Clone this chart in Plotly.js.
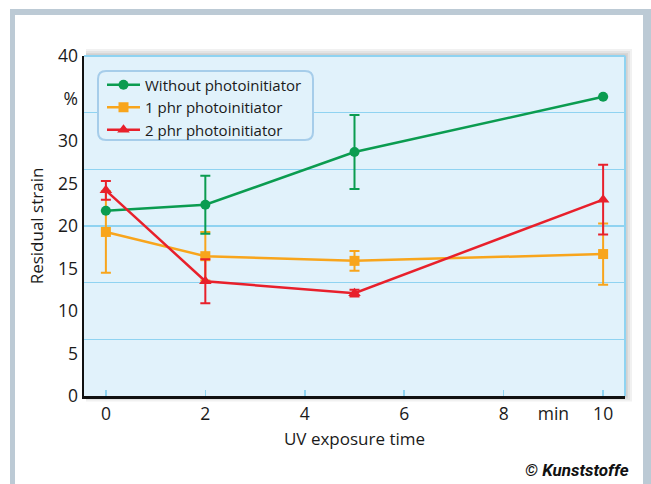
<!DOCTYPE html>
<html>
<head>
<meta charset="utf-8">
<script src="https://cdn.plot.ly/plotly-3.0.1.min.js"></script>
<style>html,body{margin:0;padding:0;background:#fff;}#chart{width:651px;height:484px;}</style>
</head>
<body>
<div id="chart"></div>
<script>
// ---- data ----
const times = [0, 2, 5, 10];
const seriesNames = ["Without photoinitiator", "1 phr photoinitiator", "2 phr photoinitiator"];
const withoutPI = [21.8, 22.5, 28.7, 35.2];
const withoutPIErr = [null, 3.4, 4.35, null];
const phr1 = [19.3, 16.45, 15.9, 16.7];
const phr1Err = [4.8, 2.85, 1.15, 3.6];
const phr2 = [24.2, 13.5, 12.1, 23.1];
const phr2Err = [1.1, 2.6, 0.4, 4.1];
const xTickVals = [0, 2, 4, 6, 8, 9, 10];
const xTickText = ["0", "2", "4", "6", "8", "min", "10"];
const yTickVals = [0, 5, 10, 15, 20, 25, 30, 35, 40];
const yTickText = ["0", "5", "10", "15", "20", "25", "30", "%", "40"];
const xMarkVals = [0, 2, 4, 6, 8, 10];

// ---- layout geometry ----
const W = 651, H = 484;
const M = {l: 84, r: 26, t: 56, b: 88};
const PW = W - M.l - M.r, PH = H - M.t - M.b;
const px = v => (v - M.l) / PW;
const py = v => (H - M.b - v) / PH;

const GREEN = "#0b9c50", ORANGE = "#f8a51c", RED = "#e8202b";
const BG = "#e1f2fb", GRID = "#8fd3f1", FRAME = "#bccad5";
const FONT = "Open Sans";

function mk(name, y, err, color, symbol, size, rank) {
  return {
    x: times, y: y, name: name, type: "scatter", mode: "lines+markers",
    legendrank: rank,
    line: {color: color, width: 2.5},
    marker: {color: color, symbol: symbol, size: size},
    error_y: {type: "data", array: err, visible: true, color: color, thickness: 2, width: 5}
  };
}
const traces = [
  mk(seriesNames[1], phr1, phr1Err, ORANGE, "square", 10, 2),
  mk(seriesNames[0], withoutPI, withoutPIErr, GREEN, "circle", 10, 1),
  mk(seriesNames[2], phr2, phr2Err, RED, "triangle-up", 11, 3),
  {x: [], y: [], xaxis: "x2", yaxis: "y2", showlegend: false, type: "scatter", hoverinfo: "skip"}
];

function roundRect(x0, y0, x1, y1, r) {
  const P = (x, y) => px(x) + "," + py(y);
  return "M" + P(x0 + r, y0) + " L" + P(x1 - r, y0) + " Q" + P(x1, y0) + " " + P(x1, y0 + r) +
    " L" + P(x1, y1 - r) + " Q" + P(x1, y1) + " " + P(x1 - r, y1) +
    " L" + P(x0 + r, y1) + " Q" + P(x0, y1) + " " + P(x0, y1 - r) +
    " L" + P(x0, y0 + r) + " Q" + P(x0, y0) + " " + P(x0 + r, y0) + " Z";
}

const shapes = [];
// outer frame
shapes.push({type: "rect", xref: "paper", yref: "paper", x0: px(10), x1: px(15), y0: py(9), y1: py(500), fillcolor: FRAME, line: {width: 0}, layer: "below"});
shapes.push({type: "rect", xref: "paper", yref: "paper", x0: px(10), x1: px(660), y0: py(9), y1: py(15), fillcolor: FRAME, line: {width: 0}, layer: "below"});
shapes.push({type: "rect", xref: "paper", yref: "paper", x0: px(643), x1: px(660), y0: py(9), y1: py(500), fillcolor: FRAME, line: {width: 0}, layer: "below"});
// shadow
[7, 5, 3, 1.5].forEach(k => {
  shapes.push({type: "rect", xref: "paper", yref: "paper",
    x0: px(M.l + 2), x1: px(W - M.r + k), y0: py(H - M.b + k * 0.8), y1: py(M.t - k),
    fillcolor: "rgba(60,60,60,0.07)", line: {width: 0}, layer: "below"});
});
// plot background
shapes.push({type: "rect", xref: "paper", yref: "paper", x0: 0, x1: 1, y0: 0, y1: 1, fillcolor: BG, line: {width: 0}, layer: "below"});
// top and right light-blue border
shapes.push({type: "line", xref: "paper", yref: "paper", x0: 0, x1: 1, y0: 1, y1: 1, line: {color: GRID, width: 2}, layer: "below"});
shapes.push({type: "line", xref: "paper", yref: "paper", x0: 1, x1: 1, y0: 0, y1: 1, line: {color: GRID, width: 2}, layer: "below"});
// legend box
shapes.push({type: "path", xref: "paper", yref: "paper", path: roundRect(98, 71, 313, 140, 8), fillcolor: BG, line: {color: "#a6cdea", width: 2}, layer: "above"});

const layout = {
  width: W, height: H,
  margin: M,
  paper_bgcolor: "#ffffff",
  plot_bgcolor: "rgba(0,0,0,0)",
  font: {family: FONT, size: 16, color: "#1a1a1a"},
  showlegend: true,
  legend: {x: px(102), y: py(68.5), xanchor: "left", yanchor: "top", bgcolor: "rgba(0,0,0,0)", borderwidth: 0,
    itemwidth: 33, font: {family: FONT, size: 15, color: "#1a1a1a"}, traceorder: "normal"},
  xaxis: {range: [-0.44, 10.44], showline: true, linecolor: "#111", linewidth: 2.5, showgrid: false, zeroline: false,
    tickmode: "array", tickvals: xTickVals, ticktext: xTickText, ticks: "", tickfont: {size: 17.5},
    title: {text: "UV exposure time", font: {size: 17}, standoff: 10}},
  yaxis: {range: [0, 40], showline: true, linecolor: "#111", linewidth: 2.5, showgrid: false, zeroline: false,
    tickmode: "array", tickvals: yTickVals, ticktext: yTickText, ticks: "", tickfont: {size: 17.5},
    title: {text: "Residual strain", font: {size: 17}, standoff: 10}},
  xaxis2: {overlaying: "x", range: [-0.44, 10.44], showgrid: false, zeroline: false, showline: false,
    tickmode: "array", tickvals: xMarkVals, ticks: "inside", ticklen: 6, tickwidth: 1.5, tickcolor: GRID, showticklabels: false, anchor: "y2"},
  yaxis2: {overlaying: "y", range: [0, 40], showgrid: true, gridcolor: GRID, gridwidth: 1.5, zeroline: false, showline: false,
    tickmode: "linear", tick0: 0, dtick: 40 / 6, ticks: "", showticklabels: false, anchor: "x2"},
  shapes: shapes,
  annotations: [{xref: "paper", yref: "paper", x: px(631), y: py(470), xanchor: "right", yanchor: "middle", showarrow: false,
    text: "<b><i>© Kunststoffe</i></b>", font: {family: "Liberation Sans Narrow, Roboto, sans-serif", size: 17, color: "#111"}}]
};

Plotly.newPlot("chart", traces, layout, {staticPlot: true, displayModeBar: false});
</script>
</body>
</html>
